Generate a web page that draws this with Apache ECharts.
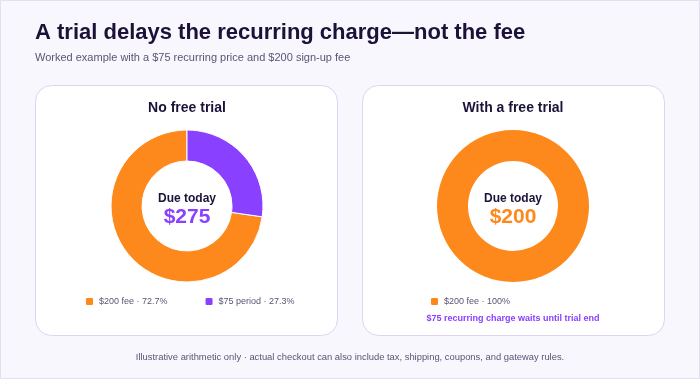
<!DOCTYPE html>
<html>
<head>
<meta charset="utf-8">
<script src="https://cdn.jsdelivr.net/npm/echarts@6/dist/echarts.min.js"></script>
<style>
  html, body { margin: 0; padding: 0; background: #f8f7fd; }
  #chart { width: 700px; height: 379px; }
</style>
</head>
<body>
<div id="chart"></div>
<script>
// values
const noTrialNames = ['$200 fee', '$75 period'];
const noTrialValues = [200, 75];
const trialNames = ['$200 fee'];
const trialValues = [200];
const sliceColors = { '$200 fee': '#fd891c', '$75 period': '#8a41ff' };

const dark = '#1c1238';
const muted = '#5d5373';
const purple = '#8a41ff';
const orange = '#fd891c';
const font = 'Liberation Sans';

function pct(values, i) {
  let total = values.reduce((a, b) => a + b, 0);
  let p = values[i] / total * 100;
  return (p === 100 ? '100' : p.toFixed(1)) + '%';
}

function pieData(names, values) {
  return names.map((n, i) => ({ name: n, value: values[i], itemStyle: { color: sliceColors[n] } }));
}

function txt(text, left, top, size, weight, color, align) {
  return {
    text: text, left: left, top: top, padding: 0, textAlign: align || 'left',
    textStyle: { fontFamily: font, fontSize: size, fontWeight: weight, color: color }
  };
}

var chart = echarts.init(document.getElementById('chart'));

chart.setOption({
  backgroundColor: '#f8f7fd',
  animation: false,
  graphic: [
    { type: 'rect', shape: { x: 0.5, y: 0.5, width: 699, height: 378 }, style: { fill: 'none', stroke: '#e4e0ef', lineWidth: 1 } },
    { type: 'rect', shape: { x: 35.5, y: 85.5, width: 302, height: 250, r: 16 }, style: { fill: '#ffffff', stroke: '#dcd4f1', lineWidth: 1 }, z: -1 },
    { type: 'rect', shape: { x: 362.5, y: 85.5, width: 302, height: 250, r: 16 }, style: { fill: '#ffffff', stroke: '#dcd4f1', lineWidth: 1 }, z: -1 }
  ],
  title: [
    txt('A trial delays the recurring charge—not the fee', 35, 22, 22, 'bold', dark),
    txt('Worked example with a $75 recurring price and $200 sign-up fee', 35, 52, 11, 'normal', muted),
    txt('No free trial', 187, 101, 14, 'bold', dark, 'center'),
    txt('With a free trial', 513, 101, 14, 'bold', dark, 'center'),
    txt('Due today', 187, 193, 12, 'bold', dark, 'center'),
    txt('$' + noTrialValues.reduce((a, b) => a + b, 0), 187, 207, 21, 'bold', purple, 'center'),
    txt('Due today', 513, 193, 12, 'bold', dark, 'center'),
    txt('$' + trialValues.reduce((a, b) => a + b, 0), 513, 207, 21, 'bold', orange, 'center'),
    txt('$75 recurring charge waits until trial end', 513, 314, 9, 'bold', purple, 'center'),
    txt('Illustrative arithmetic only · actual checkout can also include tax, shipping, coupons, and gateway rules.',
      350, 353, 9.4, 'normal', muted, 'center')
  ],
  legend: [
    {
      data: noTrialNames, left: 84, top: 296, padding: 0, itemGap: 36,
      icon: 'roundRect', itemWidth: 9, itemHeight: 9, selectedMode: false,
      formatter: n => n + ' · ' + pct(noTrialValues, noTrialNames.indexOf(n)),
      textStyle: { fontFamily: font, fontSize: 9, color: muted }
    },
    {
      data: trialNames, left: 429, top: 296, padding: 0,
      icon: 'roundRect', itemWidth: 9, itemHeight: 9, selectedMode: false,
      formatter: n => n + ' · ' + pct(trialValues, trialNames.indexOf(n)),
      textStyle: { fontFamily: font, fontSize: 9, color: muted }
    }
  ],
  series: [
    {
      type: 'pie', center: [187, 206], radius: [45, 76], clockwise: false, startAngle: 90,
      label: { show: false }, labelLine: { show: false }, silent: true,
      itemStyle: { borderColor: '#ffffff', borderWidth: 1 },
      data: pieData(noTrialNames, noTrialValues)
    },
    {
      type: 'pie', center: [513, 206], radius: [45, 76], startAngle: 90,
      label: { show: false }, labelLine: { show: false }, silent: true,
      data: pieData(trialNames, trialValues)
    }
  ]
});
</script>
</body>
</html>
